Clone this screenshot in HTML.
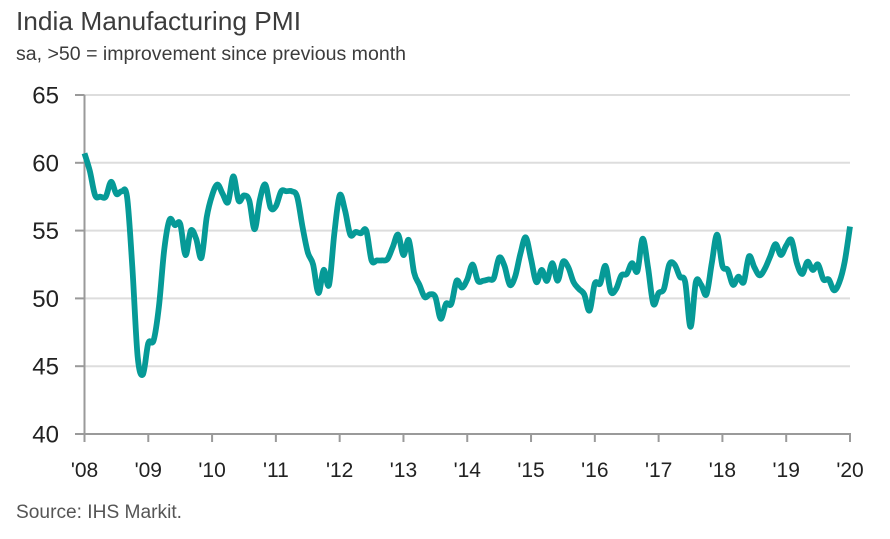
<!DOCTYPE html>
<html lang="en">
<head>
<meta charset="utf-8">
<title>India Manufacturing PMI</title>
<style>
html,body{margin:0;padding:0;background:#fff;}
body{width:890px;height:539px;overflow:hidden;font-family:"Liberation Sans",sans-serif;}
svg{display:block;}
text{font-family:"Liberation Sans",sans-serif;}
</style>
</head>
<body>
<svg id="chart" width="890" height="539" viewBox="0 0 890 539" xmlns="http://www.w3.org/2000/svg">
  <text x="16" y="30" font-size="26" fill="#3c3c3c" textLength="285" lengthAdjust="spacingAndGlyphs">India Manufacturing PMI</text>
  <text x="16" y="60" font-size="19" fill="#3c3c3c" textLength="390" lengthAdjust="spacingAndGlyphs">sa, &gt;50 = improvement since previous month</text>
  <text x="16" y="518" font-size="19" fill="#555555" textLength="166" lengthAdjust="spacingAndGlyphs">Source: IHS Markit.</text>
  <g id="grid"></g>
  <g id="axes"></g>
  <g id="series"></g>
</svg>
<script>
const yearLabels = ["'08","'09","'10","'11","'12","'13","'14","'15","'16","'17","'18","'19","'20"];
const yTickValues = [40,45,50,55,60,65];
const pmiValues = [
  60.7,59.4,57.6,57.5,57.5,58.6,57.7,57.9,57.5,52.3,45.7,44.4,
  46.7,46.9,49.4,53.6,55.8,55.4,55.5,53.2,55.0,54.4,53.0,56.0,
  57.6,58.4,57.7,57.1,59.0,57.2,57.6,57.2,55.1,57.3,58.4,56.7,
  56.8,57.9,57.9,57.9,57.5,55.3,53.4,52.5,50.4,52.1,51.0,54.8,
  57.6,56.5,54.7,54.9,54.8,55.0,52.8,52.8,52.8,52.9,53.8,54.7,
  53.2,54.3,51.9,51.0,50.1,50.3,50.1,48.5,49.6,49.6,51.3,50.8,
  51.4,52.5,51.3,51.3,51.4,51.5,53.0,52.4,51.0,51.6,53.3,54.5,
  52.9,51.2,52.1,51.3,52.6,51.3,52.7,52.3,51.2,50.7,50.3,49.1,
  51.1,51.1,52.4,50.5,50.7,51.7,51.8,52.6,52.0,54.4,52.3,49.6,
  50.4,50.7,52.5,52.5,51.6,51.2,47.9,51.2,51.0,50.3,52.6,54.7,
  52.4,52.1,51.0,51.6,51.2,53.1,52.3,51.7,52.2,53.1,54.0,53.2,
  53.9,54.3,52.6,51.8,52.7,52.1,52.5,51.4,51.4,50.6,51.2,52.7,
  55.3
];

const NS = 'http://www.w3.org/2000/svg';
const plot = {left:84.5, right:850, top:95, bottom:434};
const yMin = 40, yMax = 65;
const monthsPerYear = 12;
const xScale = m => plot.left + (plot.right - plot.left) * m / ((yearLabels.length - 1) * monthsPerYear);
const yScale = v => plot.bottom - (plot.bottom - plot.top) * (v - yMin) / (yMax - yMin);

function mk(tag, attrs, parent){
  const el = document.createElementNS(NS, tag);
  for (const k in attrs) el.setAttribute(k, attrs[k]);
  parent.appendChild(el);
  return el;
}
const gridG = document.getElementById('grid');
const axesG = document.getElementById('axes');
const seriesG = document.getElementById('series');
const axisColor = '#9a9a9a', gridColor = '#dddddd', labelColor = '#222222';

yTickValues.forEach(v => {
  const y = yScale(v);
  if (v !== yMin) {
    const g = mk('line', {x1:plot.left, x2:plot.right, y1:y, y2:y, stroke:gridColor, 'stroke-width':2}, gridG);
    
    
  }
  const t = mk('line', {x1:75, x2:plot.left, y1:y, y2:y, stroke:axisColor, 'stroke-width':2}, axesG);
  
  
  const l = mk('text', {x:59, y:y + 8.5, 'font-size':24, 'text-anchor':'end', fill:labelColor}, axesG);
  
  
  l.textContent = v;
});

const yAxis = mk('line', {x1:plot.left, x2:plot.left, y1:plot.top, y2:plot.bottom + 8, stroke:axisColor, 'stroke-width':2}, axesG);


const xAxis = mk('line', {x1:plot.left, x2:plot.right + 1, y1:plot.bottom, y2:plot.bottom, stroke:axisColor, 'stroke-width':2}, axesG);



yearLabels.forEach((lab, i) => {
  const x = xScale(i * monthsPerYear);
  const t = mk('line', {x1:x, x2:x, y1:plot.bottom, y2:plot.bottom + 8, stroke:axisColor, 'stroke-width':2}, axesG);
  
  
  const l = mk('text', {x:x, y:477, 'font-size':21, 'text-anchor':'middle', fill:labelColor}, axesG);
  
  
  l.textContent = lab;
});

const pts = pmiValues.map((v, i) => [xScale(i), yScale(v)]);
let d = 'M' + pts[0][0].toFixed(2) + ' ' + pts[0][1].toFixed(2);
for (let i = 0; i < pts.length - 1; i++) {
  const p0 = pts[Math.max(i - 1, 0)], p1 = pts[i], p2 = pts[i + 1], p3 = pts[Math.min(i + 2, pts.length - 1)];
  const c1x = p1[0] + (p2[0] - p0[0]) / 6, c1y = p1[1] + (p2[1] - p0[1]) / 6;
  const c2x = p2[0] - (p3[0] - p1[0]) / 6, c2y = p2[1] - (p3[1] - p1[1]) / 6;
  d += 'C' + c1x.toFixed(2) + ' ' + c1y.toFixed(2) + ' ' + c2x.toFixed(2) + ' ' + c2y.toFixed(2) + ' ' + p2[0].toFixed(2) + ' ' + p2[1].toFixed(2);
}
const line = mk('path', {d:d, fill:'none', stroke:'#069a97', 'stroke-width':5.8, 'stroke-linejoin':'round', 'stroke-linecap':'butt'}, seriesG);


</script>
</body>
</html>
